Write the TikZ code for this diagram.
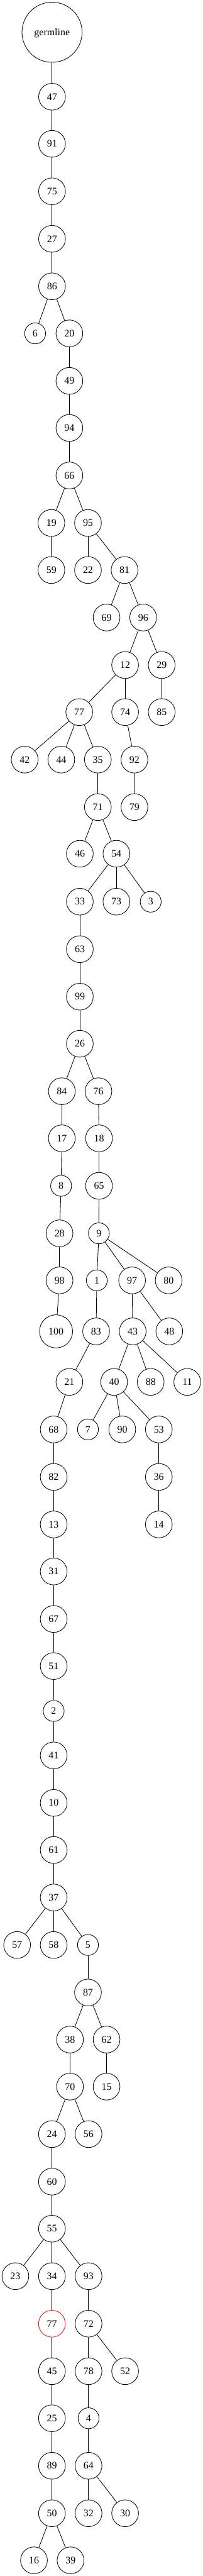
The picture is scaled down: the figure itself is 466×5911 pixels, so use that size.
\documentclass[tikz,border=0pt]{standalone}
\usepackage{fontspec}
\setmainfont{Liberation Serif}
\begin{document}
\begin{tikzpicture}[x=1pt,y=-1pt,
  nd/.style={circle,draw,line width=1.2pt,minimum size=61.5pt,inner sep=0pt,font=\fontsize{23}{27}\selectfont},
  sm/.style={nd,minimum size=48pt},
  bg/.style={nd,minimum size=76pt},
  germ/.style={nd,minimum size=138pt,text depth=0pt},
  hl/.style={nd,draw=red},
  ed/.style={line width=1.2pt}]
\useasboundingbox (0,0) rectangle (466,5911);
% nodes
\node[germ] (g) at (119.5,74) {germline};
\node[nd] (n47) at (119.5,222) {47};
\node[nd] (n91) at (119.5,330) {91};
\node[nd] (n75) at (119.5,439) {75};
\node[nd] (n27) at (119.5,548) {27};
\node[nd] (n86) at (119.5,657) {86};
\node[sm] (n6) at (80.7,765) {6};
\node[nd] (n20) at (159.3,765) {20};
\node[nd] (n49) at (159.3,874) {49};
\node[nd] (n94) at (159.3,982) {94};
\node[nd] (n66) at (159.3,1091) {66};
\node[nd] (n19) at (118,1200) {19};
\node[nd] (n95) at (202,1200) {95};
\node[nd] (n59) at (118,1308) {59};
\node[nd] (n22) at (202,1308) {22};
\node[nd] (n81) at (286,1308) {81};
\node[nd] (n69) at (244.7,1417) {69};
\node[nd] (n96) at (328.7,1417) {96};
\node[nd] (n12) at (287.3,1526) {12};
\node[nd] (n29) at (371.3,1526) {29};
\node[nd] (n77) at (182,1634) {77};
\node[nd] (n74) at (287.3,1634) {74};
\node[nd] (n85) at (371.3,1634) {85};
\node[nd] (n42) at (56.7,1743) {42};
\node[nd] (n44) at (140.7,1743) {44};
\node[nd] (n35) at (224.7,1743) {35};
\node[nd] (n92) at (308.7,1743) {92};
\node[nd] (n71) at (224.7,1852) {71};
\node[nd] (n79) at (308.7,1852) {79};
\node[nd] (n46) at (183.3,1959) {46};
\node[nd] (n54) at (267.3,1959) {54};
\node[nd] (n33) at (183.3,2069) {33};
\node[nd] (n73) at (267.3,2069) {73};
\node[sm] (n3) at (346,2069) {3};
\node[nd] (n63) at (183.3,2178) {63};
\node[nd] (n99) at (183.3,2287) {99};
\node[nd] (n26) at (183.3,2395) {26};
\node[nd] (n84) at (142,2504) {84};
\node[nd] (n76) at (226,2504) {76};
\node[nd] (n17) at (142,2612) {17};
\node[nd] (n18) at (227.3,2612) {18};
\node[sm] (n8) at (140.3,2721) {8};
\node[nd] (n65) at (227.3,2721) {65};
\node[nd] (n28) at (136.7,2830) {28};
\node[sm] (n9) at (227,2830) {9};
\node[nd] (n98) at (136.7,2938) {98};
\node[sm] (n1) at (222.3,2938) {1};
\node[nd] (n97) at (303.3,2938) {97};
\node[nd] (n80) at (387.3,2938) {80};
\node[bg] (n100) at (128.7,3055) {100};
\node[nd] (n83) at (220.7,3055) {83};
\node[nd] (n43) at (304.7,3055) {43};
\node[nd] (n48) at (388.7,3055) {48};
\node[nd] (n21) at (159.3,3171) {21};
\node[nd] (n40) at (262,3171) {40};
\node[nd] (n88) at (346,3171) {88};
\node[nd] (n11) at (430,3171) {11};
\node[nd] (n68) at (123.3,3280) {68};
\node[sm] (n7) at (202,3280) {7};
\node[nd] (n90) at (280.7,3280) {90};
\node[nd] (n53) at (364.7,3280) {53};
\node[nd] (n82) at (123.3,3389) {82};
\node[nd] (n36) at (364.7,3389) {36};
\node[nd] (n13) at (123.3,3498) {13};
\node[nd] (n14) at (364.7,3498) {14};
\node[nd] (n31) at (123.3,3606) {31};
\node[nd] (n67) at (123.3,3715) {67};
\node[nd] (n51) at (123.3,3823) {51};
\node[sm] (n2) at (123.3,3926) {2};
\node[nd] (n41) at (123.3,4028) {41};
\node[nd] (n10) at (123.3,4137) {10};
\node[nd] (n61) at (123.3,4245) {61};
\node[nd] (n37) at (123.3,4354) {37};
\node[nd] (n57) at (39.3,4463) {57};
\node[nd] (n58) at (123.3,4463) {58};
\node[sm] (n5) at (202,4463) {5};
\node[nd] (n87) at (202,4572) {87};
\node[nd] (n38) at (160.7,4680) {38};
\node[nd] (n62) at (244.7,4680) {62};
\node[nd] (n70) at (160.7,4788) {70};
\node[nd] (n15) at (244.7,4788) {15};
\node[nd] (n24) at (119.3,4897) {24};
\node[nd] (n56) at (203.3,4897) {56};
\node[nd] (n60) at (119.3,5006) {60};
\node[nd] (n55) at (119.3,5114) {55};
\node[nd] (n23) at (35.3,5223) {23};
\node[nd] (n34) at (119.3,5223) {34};
\node[nd] (n93) at (203.3,5223) {93};
\node[hl] (n77b) at (119.3,5332) {77};
\node[nd] (n72) at (203.3,5332) {72};
\node[nd] (n45) at (119.3,5441) {45};
\node[nd] (n78) at (203.3,5441) {78};
\node[nd] (n52) at (287.3,5441) {52};
\node[nd] (n25) at (119.3,5549) {25};
\node[sm] (n4) at (203.3,5549) {4};
\node[nd] (n89) at (119.3,5658) {89};
\node[nd] (n64) at (203.3,5658) {64};
\node[nd] (n50) at (119.3,5767) {50};
\node[nd] (n32) at (203.3,5767) {32};
\node[nd] (n30) at (287.3,5767) {30};
\node[nd] (n16) at (78,5875) {16};
\node[nd] (n39) at (162,5875) {39};
% edges
\foreach \a/\b in {g/n47,n47/n91,n91/n75,n75/n27,n27/n86,n86/n6,n86/n20,n20/n49,n49/n94,n94/n66,
  n66/n19,n66/n95,n19/n59,n95/n22,n95/n81,n81/n69,n81/n96,n96/n12,n96/n29,n12/n77,n12/n74,n29/n85,
  n77/n42,n77/n44,n77/n35,n74/n92,n35/n71,n92/n79,n71/n46,n71/n54,n54/n33,n54/n73,n54/n3,
  n33/n63,n63/n99,n99/n26,n26/n84,n26/n76,n84/n17,n17/n8,n8/n28,n28/n98,n98/n100,
  n76/n18,n18/n65,n65/n9,n9/n1,n9/n97,n9/n80,n1/n83,n97/n43,n97/n48,n83/n21,
  n43/n40,n43/n88,n43/n11,n21/n68,n40/n7,n40/n90,n40/n53,n68/n82,n53/n36,n82/n13,n36/n14,
  n13/n31,n31/n67,n67/n51,n51/n2,n2/n41,n41/n10,n10/n61,n61/n37,n37/n57,n37/n58,n37/n5,
  n5/n87,n87/n38,n87/n62,n38/n70,n62/n15,n70/n24,n70/n56,n24/n60,n60/n55,
  n55/n23,n55/n34,n55/n93,n34/n77b,n93/n72,n77b/n45,n72/n78,n72/n52,n45/n25,n78/n4,
  n25/n89,n4/n64,n89/n50,n64/n32,n64/n30,n50/n16,n50/n39}
  \draw[ed] (\a) -- (\b);
\end{tikzpicture}
\end{document}
